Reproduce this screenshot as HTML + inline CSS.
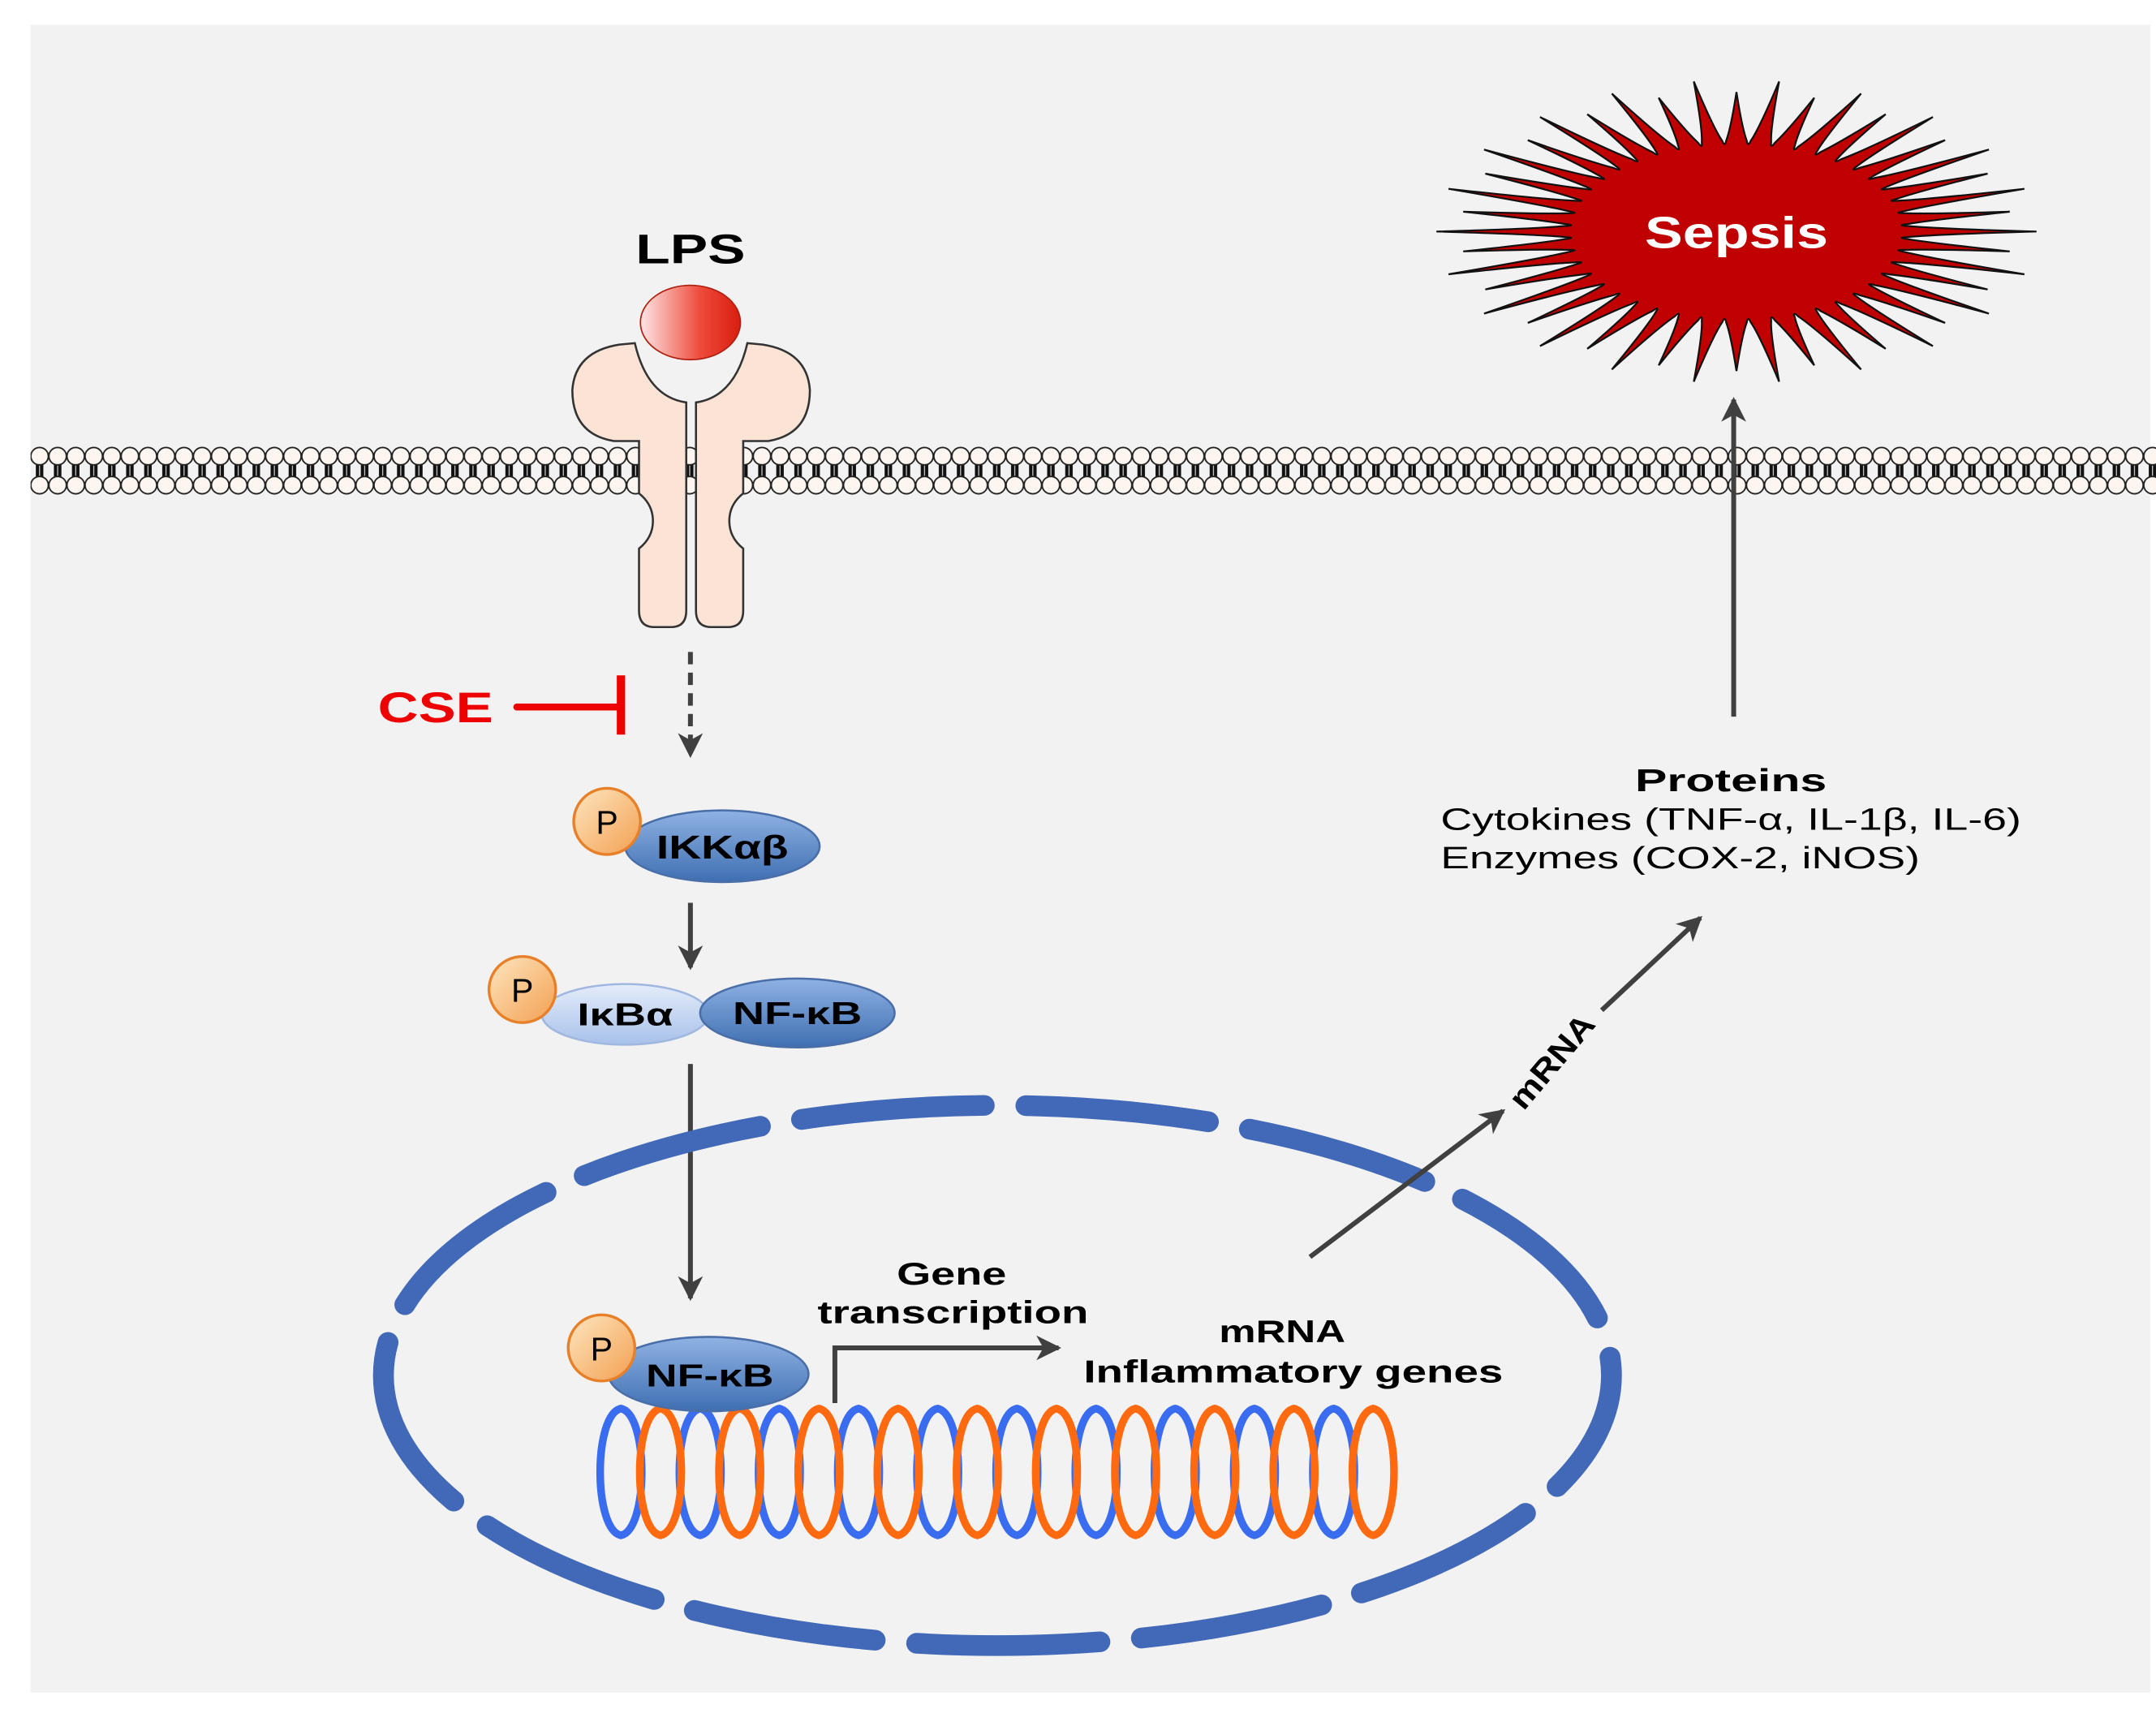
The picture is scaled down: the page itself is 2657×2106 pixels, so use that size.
<!DOCTYPE html>
<html><head><meta charset="utf-8">
<style>
html,body{margin:0;padding:0;background:#fff;}
svg{display:block;}
text{font-family:"Liberation Sans",Arial,sans-serif;}
</style></head>
<body>
<svg id="s" width="2657" height="2106" viewBox="0 0 1552 1240" preserveAspectRatio="none" xmlns="http://www.w3.org/2000/svg">
<defs>
<linearGradient id="ball" x1="0" x2="1" y1="0" y2="0"><stop offset="0" stop-color="#fde6e6"/><stop offset="0.6" stop-color="#ee4a3a"/><stop offset="1" stop-color="#d81e10"/></linearGradient>
<linearGradient id="pg" x1="0" x2="1" y1="0" y2="1"><stop offset="0" stop-color="#fde6c0"/><stop offset="1" stop-color="#f3a052"/></linearGradient>
<linearGradient id="bg" x1="0" x2="0" y1="0" y2="1"><stop offset="0" stop-color="#8fb2e3"/><stop offset="1" stop-color="#3f6fb2"/></linearGradient>
<linearGradient id="lbg" x1="0" x2="0" y1="0" y2="1"><stop offset="0" stop-color="#e4ecf9"/><stop offset="1" stop-color="#a8c1ea"/></linearGradient>
<pattern id="mem" x="22" y="0" width="13" height="1240" patternUnits="userSpaceOnUse">
<rect x="3.8" y="335" width="2.4" height="13" fill="#111"/><rect x="6.8" y="335" width="2.4" height="13" fill="#111"/>
<ellipse cx="6.5" cy="331" rx="6.3" ry="6.3" fill="#fdf6f0" stroke="#222" stroke-width="1.1"/>
<ellipse cx="6.5" cy="352" rx="6.3" ry="6.3" fill="#fdf6f0" stroke="#222" stroke-width="1.1"/>
</pattern>
<marker id="ah2" markerWidth="20" markerHeight="20" refX="16" refY="10" orient="auto" markerUnits="userSpaceOnUse" viewBox="0 0 20 20">
<path d="M0,1 L18,10 L0,19 L5,10 Z" fill="#404040"/></marker>
</defs>
<rect x="0" y="0" width="1552" height="1240" fill="#fff"/>
<rect x="22" y="18" width="1526" height="1210" fill="#f2f2f2"/>
<rect x="22" y="322" width="1530" height="40" fill="url(#mem)"/>
<g fill="#fbe4d6" stroke="#333" stroke-width="1.5">
<path id="rl" d="M494,296 L494,443 Q494,455 483,455 L471,455 Q460,455 460,443 L460,398 Q470,390 470,378 Q470,366 460,358 L460,320 L442,320 Q412,315 412,283 Q414,255 446,250 L457,249 Q466,288 494,292 Z"/>
<use href="#rl" transform="translate(995,0) scale(-1,1)"/>
</g>
<ellipse cx="497" cy="234" rx="36" ry="27" fill="url(#ball)" stroke="#b02010" stroke-width="1"/>
<text x="497" y="191" font-size="30" font-weight="bold" text-anchor="middle" textLength="79" lengthAdjust="spacingAndGlyphs">LPS</text>
<line x1="497" y1="473" x2="497" y2="548" stroke="#404040" stroke-width="3.5" stroke-dasharray="9,6" marker-end="url(#ah2)"/>
<text x="272" y="524" font-size="31" font-weight="bold" fill="#ee0000" textLength="83" lengthAdjust="spacingAndGlyphs">CSE</text>
<line x1="372" y1="513" x2="447" y2="513" stroke="#ee0000" stroke-width="5" stroke-linecap="round"/>
<line x1="447" y1="490" x2="447" y2="533" stroke="#ee0000" stroke-width="6"/>
<ellipse cx="520" cy="614" rx="70" ry="26" fill="url(#bg)" stroke="#4a6fa8" stroke-width="1.5"/>
<circle cx="437" cy="596" r="24" fill="url(#pg)" stroke="#e8802a" stroke-width="2"/>
<text x="437" y="605" font-size="24" text-anchor="middle">P</text>
<text x="520" y="623" font-size="24" font-weight="bold" text-anchor="middle" textLength="95" lengthAdjust="spacingAndGlyphs">IKKαβ</text>
<line x1="497" y1="655" x2="497" y2="702" stroke="#404040" stroke-width="3.5" marker-end="url(#ah2)"/>
<ellipse cx="450" cy="736" rx="60" ry="22" fill="url(#lbg)" stroke="#a0b8e0" stroke-width="1.5"/>
<ellipse cx="574" cy="735" rx="70" ry="25" fill="url(#bg)" stroke="#4a6fa8" stroke-width="1.5"/>
<circle cx="376" cy="718" r="24" fill="url(#pg)" stroke="#e8802a" stroke-width="2"/>
<text x="376" y="727" font-size="24" text-anchor="middle">P</text>
<text x="450" y="744" font-size="23" font-weight="bold" text-anchor="middle" textLength="69" lengthAdjust="spacingAndGlyphs">IκBα</text>
<text x="574" y="743" font-size="23" font-weight="bold" text-anchor="middle" textLength="93" lengthAdjust="spacingAndGlyphs">NF-κB</text>
<line x1="497" y1="772" x2="497" y2="942" stroke="#404040" stroke-width="3.5" marker-end="url(#ah2)"/>
<ellipse cx="718" cy="998" rx="442" ry="196" fill="none" stroke="#4169b8" stroke-width="15" stroke-dasharray="132 30" stroke-linecap="round" stroke-dashoffset="40"/>
<g id="dna" fill="none" stroke-width="5.5"></g>
<ellipse cx="510" cy="997" rx="72" ry="27" fill="url(#bg)" stroke="#4a6fa8" stroke-width="1.5"/>
<circle cx="433" cy="978" r="24" fill="url(#pg)" stroke="#e8802a" stroke-width="2"/>
<text x="433" y="987" font-size="24" text-anchor="middle">P</text>
<text x="511" y="1006" font-size="23" font-weight="bold" text-anchor="middle" textLength="92" lengthAdjust="spacingAndGlyphs">NF-κB</text>
<polyline points="601,1018 601,978 762,978" fill="none" stroke="#404040" stroke-width="3.5" marker-end="url(#ah2)"/>
<text x="685" y="932" font-size="23" font-weight="bold" text-anchor="middle" textLength="79" lengthAdjust="spacingAndGlyphs">Gene</text>
<text x="686" y="960" font-size="23" font-weight="bold" text-anchor="middle" textLength="195" lengthAdjust="spacingAndGlyphs">transcription</text>
<text x="923" y="974" font-size="23" font-weight="bold" text-anchor="middle" textLength="91" lengthAdjust="spacingAndGlyphs">mRNA</text>
<text x="931" y="1003" font-size="23" font-weight="bold" text-anchor="middle" textLength="302" lengthAdjust="spacingAndGlyphs">Inflammatory genes</text>
<line x1="943" y1="912" x2="1082" y2="806" stroke="#404040" stroke-width="3.5" marker-end="url(#ah2)"/>
<text x="1117" y="778" font-size="23" font-weight="bold" text-anchor="middle" transform="rotate(-50 1117 770)" textLength="82" lengthAdjust="spacingAndGlyphs">mRNA</text>
<line x1="1153" y1="733" x2="1224" y2="666" stroke="#404040" stroke-width="3.5" marker-end="url(#ah2)"/>
<text x="1246" y="574" font-size="23" font-weight="bold" text-anchor="middle" textLength="138" lengthAdjust="spacingAndGlyphs">Proteins</text>
<text x="1037" y="602" font-size="22.5" textLength="418" lengthAdjust="spacingAndGlyphs">Cytokines (TNF-α, IL-1β, IL-6)</text>
<text x="1037" y="630" font-size="22.5" textLength="345" lengthAdjust="spacingAndGlyphs">Enzymes (COX-2, iNOS)</text>
<line x1="1248" y1="520" x2="1248" y2="290" stroke="#404040" stroke-width="3.5" marker-end="url(#ah2)"/>
<path id="star" fill="#c00000" stroke="#111" stroke-width="1.3"/>
<text x="1250" y="180" font-size="32" font-weight="bold" fill="#fff" text-anchor="middle" textLength="132" lengthAdjust="spacingAndGlyphs">Sepsis</text>
</svg>
<script>
(function(){
var ns="http://www.w3.org/2000/svg";
var g=document.getElementById('dna');
function lens(cx,col){
 var t=1022,b=1114,rx=15,k=1.33*rx;
 var d="M"+cx+","+t+" C"+(cx+k)+","+(t+4)+" "+(cx+k)+","+(b-4)+" "+cx+","+b+" C"+(cx-k)+","+(b-4)+" "+(cx-k)+","+(t+4)+" "+cx+","+t+"Z";
 var e=document.createElementNS(ns,"path");e.setAttribute("d",d);e.setAttribute("stroke",col);g.appendChild(e);
}
for(var i=0;i<10;i++){ lens(447+57*i,"#3a6cf0"); }
for(var i=0;i<10;i++){ lens(475.5+57*i,"#ff6a10"); }
var cx=1250,cy=168,N=44,d="";
var vr=118, vry=63;
for(var i=0;i<N;i++){
 var st=2*Math.PI/N, th=i*st;
 var L=(i%2?0.92:1.0);
 var ox=cx+216*L*Math.cos(th), oy=cy+110*L*Math.sin(th);
 function P(a,k){return (cx+vr*k*Math.cos(a)).toFixed(1)+","+(cy+vry*k*Math.sin(a)).toFixed(1);}
 function M(a,k){return (cx+(vr+(216-vr)*k)*Math.cos(a)).toFixed(1)+","+(cy+(vry+(110-vry)*k)*Math.sin(a)).toFixed(1);}
 var L2=((i+1)%2?0.92:1.0);
 d+=(i==0?"M":"L")+ox.toFixed(1)+","+oy.toFixed(1);
 d+="Q"+M(th+st*0.2,0.25)+" "+P(th+st*0.42,1.05);
 d+="Q"+P(th+st*0.5,0.97)+" "+P(th+st*0.58,1.05);
 var nx=cx+216*L2*Math.cos(th+st), ny=cy+110*L2*Math.sin(th+st);
 d+="Q"+M(th+st*0.8,0.25)+" "+nx.toFixed(1)+","+ny.toFixed(1);
}
d+="Z";
document.getElementById('star').setAttribute("d",d);
})();
</script>
</body></html>
